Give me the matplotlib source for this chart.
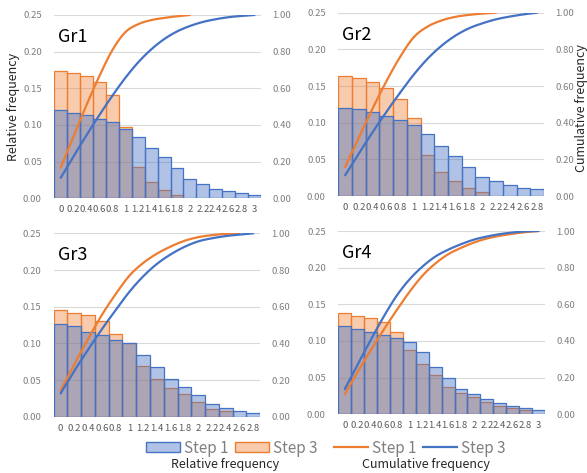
import numpy as np
import matplotlib
matplotlib.use('Agg')
import matplotlib.pyplot as plt
from matplotlib.patches import Patch
from matplotlib.lines import Line2D

plt.rcParams['font.family'] = ['Noto Sans CJK JP', 'DejaVu Sans']

BLUE = '#4472C4'
ORANGE = '#ED7D31'

# class labels (upper bound of each bin)
labels = ['0', '0.2', '0.4', '0.6', '0.8', '1', '1.2', '1.4', '1.6', '1.8',
          '2', '2.2', '2.4', '2.6', '2.8', '3']

# relative frequency: blue bars = Step 1, orange bars = Step 3
gr1_rel_step1 = [0.120, 0.117, 0.113, 0.108, 0.104, 0.095, 0.083, 0.069,
                 0.056, 0.041, 0.026, 0.020, 0.013, 0.010, 0.007, 0.004]
gr1_rel_step3 = [0.174, 0.171, 0.167, 0.158, 0.141, 0.097, 0.043, 0.022,
                 0.011, 0.005]
gr2_rel_step1 = [0.120, 0.118, 0.114, 0.109, 0.103, 0.097, 0.084, 0.068,
                 0.054, 0.040, 0.026, 0.021, 0.015, 0.011, 0.009]
gr2_rel_step3 = [0.164, 0.161, 0.156, 0.147, 0.132, 0.106, 0.056, 0.033,
                 0.020, 0.011, 0.006]
gr3_rel_step1 = [0.126, 0.123, 0.116, 0.111, 0.105, 0.100, 0.084, 0.068,
                 0.052, 0.041, 0.030, 0.017, 0.012, 0.008, 0.005]
gr3_rel_step3 = [0.146, 0.141, 0.138, 0.131, 0.113, 0.101, 0.069, 0.051,
                 0.039, 0.031, 0.020, 0.011, 0.008]
gr4_rel_step1 = [0.120, 0.117, 0.112, 0.108, 0.104, 0.098, 0.085, 0.065,
                 0.050, 0.034, 0.028, 0.021, 0.015, 0.011, 0.009, 0.006]
gr4_rel_step3 = [0.138, 0.134, 0.131, 0.126, 0.112, 0.088, 0.069, 0.053,
                 0.037, 0.029, 0.024, 0.017, 0.012, 0.009, 0.006]

# cumulative frequency: orange line = Step 1, blue line = Step 3
gr1_cum_step1 = [0.168, 0.34, 0.51, 0.668, 0.809, 0.906, 0.95, 0.972, 0.984,
                 0.993, 1.0]
gr1_cum_step3 = [0.112, 0.23, 0.345, 0.455, 0.56, 0.657, 0.742, 0.812, 0.868,
                 0.91, 0.94, 0.962, 0.977, 0.988, 0.995, 1.0]
gr2_cum_step1 = [0.158, 0.32, 0.477, 0.625, 0.758, 0.866, 0.924, 0.957, 0.977,
                 0.988, 0.995, 1.0]
gr2_cum_step3 = [0.113, 0.232, 0.348, 0.458, 0.563, 0.662, 0.748, 0.818, 0.873,
                 0.914, 0.942, 0.964, 0.979, 0.991, 1.0]
gr3_cum_step1 = [0.142, 0.286, 0.424, 0.555, 0.668, 0.769, 0.838, 0.889, 0.928,
                 0.959, 0.979, 0.99, 0.997, 1.0]
gr3_cum_step3 = [0.127, 0.25, 0.366, 0.477, 0.581, 0.681, 0.765, 0.833, 0.885,
                 0.926, 0.956, 0.973, 0.985, 0.993, 1.0]
gr4_cum_step1 = [0.109, 0.232, 0.348, 0.46, 0.566, 0.667, 0.755, 0.822, 0.873,
                 0.908, 0.937, 0.959, 0.974, 0.985, 0.994, 1.0]
gr4_cum_step3 = [0.137, 0.272, 0.404, 0.531, 0.645, 0.735, 0.805, 0.86, 0.898,
                 0.928, 0.953, 0.97, 0.983, 0.992, 0.998, 1.0]


def smooth(ys, n=24):
    # Catmull-Rom through the points, like Excel's smoothed line
    xs = np.arange(len(ys), dtype=float)
    p = np.column_stack([xs, ys])
    p = np.vstack([p[0], p, p[-1]])
    t = np.linspace(0, 1, n)[:, None]
    segs = []
    for i in range(1, len(p) - 2):
        p0, p1, p2, p3 = p[i - 1], p[i], p[i + 1], p[i + 2]
        seg = 0.5 * (2 * p1 + (-p0 + p2) * t
                     + (2 * p0 - 5 * p1 + 4 * p2 - p3) * t ** 2
                     + (-p0 + 3 * p1 - 3 * p2 + p3) * t ** 3)
        segs.append(seg)
    c = np.vstack(segs)
    return c[:, 0], c[:, 1]


def panel(rect, name, nbins, rel1, rel3, cum1, cum3):
    ax = fig.add_axes(rect)
    ax.set_axisbelow(True)
    ax.bar(np.arange(len(rel3)), rel3, width=1.0,
           facecolor=(237/255, 125/255, 49/255, 0.4),
           edgecolor=ORANGE, linewidth=0.9, zorder=2)
    ax.bar(np.arange(len(rel1)), rel1, width=1.0,
           facecolor=(68/255, 114/255, 196/255, 0.42),
           edgecolor=BLUE, linewidth=0.9, zorder=3)
    ax.set_xlim(-0.5, nbins - 0.5)
    ax.set_ylim(0, 0.25)
    ax.set_yticks(np.arange(0, 0.251, 0.05))
    ax.yaxis.set_major_formatter(matplotlib.ticker.FormatStrFormatter('%.2f'))
    ax.set_xticks(np.arange(nbins))
    ax.set_xticklabels(labels[:nbins])
    ax.grid(axis='y', color='#D9D9D9', linewidth=0.8)
    for s in ax.spines.values():
        s.set_visible(False)
    ax.tick_params(axis='both', length=0, labelsize=6.8)
    ax.tick_params(axis='y', colors='#7F7F7F', pad=9)
    ax.tick_params(axis='x', colors='#595959', pad=5)
    ax.text(0.02, 0.93, name, transform=ax.transAxes, fontsize=13,
            va='top', ha='left', color='black')

    ax2 = ax.twinx()
    ax2.set_ylim(0, 1.0)
    ax2.set_yticks(np.arange(0, 1.01, 0.2))
    ax2.yaxis.set_major_formatter(matplotlib.ticker.FormatStrFormatter('%.2f'))
    for s in ax2.spines.values():
        s.set_visible(False)
    ax2.tick_params(axis='y', length=0, labelsize=6.8, colors='#7F7F7F', pad=8)
    x, y = smooth(cum1)
    ax2.plot(x, y, color=ORANGE, linewidth=1.6, solid_capstyle='round')
    x, y = smooth(cum3)
    ax2.plot(x, y, color=BLUE, linewidth=1.6, solid_capstyle='round')
    return ax, ax2


fig = plt.figure(figsize=(5.87, 4.73), dpi=100)

panel([0.0925, 0.5808, 0.352, 0.3875], 'Gr1', 16,
      gr1_rel_step1, gr1_rel_step3, gr1_cum_step1, gr1_cum_step3)
panel([0.5763, 0.5856, 0.3504, 0.3875], 'Gr2', 15,
      gr2_rel_step1, gr2_rel_step3, gr2_cum_step1, gr2_cum_step3)
panel([0.0915, 0.1190, 0.3515, 0.3877], 'Gr3', 15,
      gr3_rel_step1, gr3_rel_step3, gr3_cum_step1, gr3_cum_step3)
panel([0.5763, 0.1241, 0.3521, 0.3875], 'Gr4', 16,
      gr4_rel_step1, gr4_rel_step3, gr4_cum_step1, gr4_cum_step3)

fig.text(14 / 587, 1 - 107 / 473, 'Relative frequency', rotation=90,
         ha='center', va='center', fontsize=9, color='#262626')
fig.text(582 / 587, 1 - 108 / 473, 'Cumulative frequency', rotation=90,
         ha='center', va='center', fontsize=9, color='#262626')

bar_handles = [Patch(facecolor=(68/255, 114/255, 196/255, 0.42), edgecolor=BLUE),
               Patch(facecolor=(237/255, 125/255, 49/255, 0.4), edgecolor=ORANGE)]
line_handles = [Line2D([], [], color=ORANGE, linewidth=1.6),
                Line2D([], [], color=BLUE, linewidth=1.6)]
leg_kw = dict(ncol=2, frameon=False, loc='center', fontsize=11,
              handlelength=2.2, handleheight=0.6, handletextpad=0.3,
              columnspacing=0.4, labelcolor='#7F7F7F', borderpad=0.1)
fig.legend(bar_handles, ['Step 1', 'Step 3'],
           bbox_to_anchor=(232 / 587, 1 - 448 / 473), **leg_kw)
fig.legend(line_handles, ['Step 1', 'Step 3'],
           bbox_to_anchor=(420 / 587, 1 - 448 / 473), **leg_kw)
fig.text(225 / 587, 1 - 464 / 473, 'Relative frequency', ha='center',
         va='center', fontsize=9, color='#262626')
fig.text(426 / 587, 1 - 464 / 473, 'Cumulative frequency', ha='center',
         va='center', fontsize=9, color='#262626')

fig.savefig('out.png', dpi=100)
